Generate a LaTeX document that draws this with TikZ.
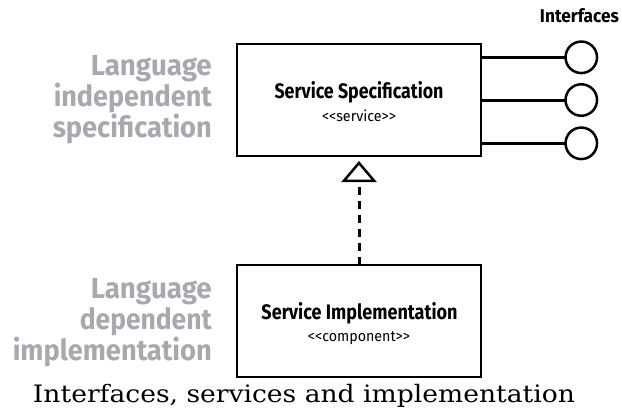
\documentclass[tikz,border=0pt]{standalone}
\usepackage{fontspec}
\setmainfont{DejaVu Serif}
\newfontfamily\dfont{Fira Sans}
\usetikzlibrary{arrows.meta}
\definecolor{greytxt}{RGB}{167,168,176}
\newcommand{\fitw}[2]{\resizebox{#1}{\height}{#2}}
\begin{document}
\begin{tikzpicture}[x=1pt,y=-1pt,
  box/.style={draw, line width=2pt, minimum width=244pt, minimum height=112pt, inner sep=0pt, outer sep=0pt},
  iface/.style={circle, draw, line width=2.5pt, minimum size=31.5pt, inner sep=0pt, outer sep=0pt},
  conn/.style={line width=3pt},
  realize/.style={line width=3pt, dash pattern=on 8pt off 6pt,
    -{Triangle[open, length=21pt, width=35pt, line width=2.5pt]}},
  btitle/.style={font=\dfont\bfseries\fontsize{21}{25}\selectfont, inner sep=0pt, anchor=base},
  bster/.style={font=\dfont\fontsize{15}{18}\selectfont, inner sep=0pt, anchor=base},
  grey/.style={font=\dfont\bfseries\fontsize{29}{33}\selectfont, text=greytxt, inner sep=0pt, anchor=base east},
  ifl/.style={font=\dfont\bfseries\fontsize{18.5}{22}\selectfont, inner sep=0pt, anchor=base},
  captext/.style={font=\fontsize{24}{28}\selectfont, inner sep=0pt, anchor=base}
]
\useasboundingbox (0,0) rectangle (622,408);

% boxes
\node[box] (spec) at (359,100) {};
\node[box] (impl) at (359,321) {};

% box texts
\node[btitle] (specT) at (359,98) {\fitw{169pt}{Service Specification}};
\node[bster] (specS) at (359,121.7) {\fitw{74pt}{<<service>>}};
\node[btitle] (implT) at (359.5,319.3) {\fitw{196pt}{Service Implementation}};
\node[bster] (implS) at (359,341.7) {\fitw{102pt}{<<component>>}};

% interfaces
\node[ifl] (ifl) at (579.5,22.7) {\fitw{79pt}{Interfaces}};
\node[iface] (i1) at (581.3,57.3) {};
\node[iface] (i2) at (581.3,100) {};
\node[iface] (i3) at (581.3,143.3) {};
\draw[conn] (spec.east |- i1) -- (i1.west);
\draw[conn] (spec.east |- i2) -- (i2.west);
\draw[conn] (spec.east |- i3) -- (i3.west);

% realization
\coordinate (tip) at ([yshift=-5pt]spec.south);
\draw[realize] (impl.north) -- (tip);

% grey labels
\node[grey] (lt1) at (212,75) {\fitw{121pt}{Language}};
\node[grey] (lt2) at (212,106) {\fitw{158pt}{independent}};
\node[grey] (lt3) at (212,137) {\fitw{159pt}{specification}};
\node[grey] (lb1) at (212,298) {\fitw{121pt}{Language}};
\node[grey] (lb2) at (212,329) {\fitw{132pt}{dependent}};
\node[grey] (lb3) at (212,360) {\fitw{199pt}{implementation}};

% caption
\node[captext] (caption) at (304,402.7) {\fitw{542pt}{Interfaces, services and implementation}};
\end{tikzpicture}
\end{document}
